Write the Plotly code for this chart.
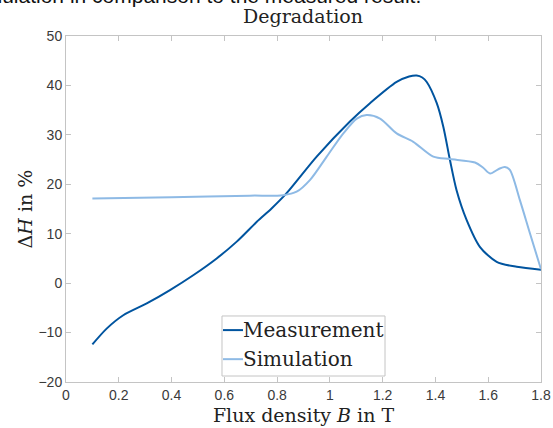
import plotly.graph_objects as go

meas_B = [0.10, 0.154, 0.217, 0.306, 0.394, 0.482, 0.571, 0.647, 0.723, 0.779, 0.836, 0.950, 1.076, 1.152, 1.253, 1.300, 1.329, 1.350, 1.367, 1.405, 1.430, 1.455, 1.480, 1.518, 1.569, 1.632, 1.708, 1.80]
meas_dH = [-12.4, -9.2, -6.5, -4.1, -1.4, 1.6, 5.0, 8.4, 12.4, 15.1, 18.2, 25.6, 32.7, 36.4, 40.7, 41.8, 42.0, 41.6, 40.7, 36.4, 31.6, 24.9, 18.8, 12.8, 7.3, 4.3, 3.3, 2.7]

sim_B = [0.10, 0.40, 0.697, 0.823, 0.874, 0.925, 0.988, 1.051, 1.102, 1.139, 1.190, 1.253, 1.316, 1.392, 1.455, 1.550, 1.580, 1.607, 1.640, 1.663, 1.682, 1.720, 1.758, 1.80]
sim_dH = [17.1, 17.4, 17.7, 17.8, 18.5, 20.9, 25.6, 30.3, 33.3, 34.0, 33.3, 30.3, 28.6, 25.6, 25.1, 24.4, 23.4, 22.2, 23.1, 23.5, 22.9, 16.8, 10.1, 2.8]

series_names = ["Measurement", "Simulation"]
series_colors = ["#00549F", "#8EBAE5"]

x_ticks = [0, 0.2, 0.4, 0.6, 0.8, 1, 1.2, 1.4, 1.6, 1.8]
x_tick_text = ["0", "0.2", "0.4", "0.6", "0.8", "1", "1.2", "1.4", "1.6", "1.8"]
y_ticks = [-20, -10, 0, 10, 20, 30, 40, 50]

serif = "DejaVu Serif, serif"
sans = "Liberation Sans, Arial, sans-serif"

fig = go.Figure()
for xs, ys, nm, col in [(meas_B, meas_dH, series_names[0], series_colors[0]),
                        (sim_B, sim_dH, series_names[1], series_colors[1])]:
    fig.add_trace(go.Scatter(x=xs, y=ys, mode="lines", name=nm, showlegend=False,
                             line=dict(color=col, width=2, shape="spline", smoothing=0.8)))

axis_common = dict(showline=True, linecolor="#c4c4c4", linewidth=1, mirror="ticks",
                   ticks="inside", ticklen=5, tickcolor="#c4c4c4", showgrid=False, zeroline=False,
                   automargin=False,
                   tickfont=dict(family=sans, size=14, color="#3a3a3a"))

fig.update_layout(
    width=553, height=428,
    margin=dict(l=66, r=12, t=36, b=46),
    paper_bgcolor="white", plot_bgcolor="white",
    title=dict(text="Degradation", x=0.548, xanchor="center", y=0.962, yanchor="middle",
               font=dict(family=serif, size=19, color="#222222")),
    xaxis=dict(range=[0, 1.8], tickvals=x_ticks, ticktext=x_tick_text,
               title=dict(text="Flux density <i>B</i> in T", standoff=6,
                          font=dict(family=serif, size=19, color="#222222")),
               **axis_common),
    yaxis=dict(range=[-20, 50], tickvals=y_ticks,
               title=dict(text="Δ<i>H</i> in %", standoff=0,
                          font=dict(family=serif, size=19, color="#222222")),
               **axis_common),
)

# manual legend (MATLAB style: short line samples)
fig.add_shape(type="rect", xref="paper", yref="paper", x0=0.3284, x1=0.6716, y0=0.0173, y1=0.1908,
              line=dict(color="#c4c4c4", width=1), fillcolor="white", layer="above")
leg_rows = [0.1500, 0.0660]
for yy, nm, col in zip(leg_rows, series_names, series_colors):
    fig.add_shape(type="line", xref="paper", yref="paper", x0=0.3305, x1=0.3726, y0=yy, y1=yy,
                  line=dict(color=col, width=2), layer="above")
    fig.add_annotation(text=nm, xref="paper", yref="paper", x=0.3726, y=yy, xanchor="left",
                       yanchor="middle", showarrow=False, xshift=-2,
                       font=dict(family=serif, size=20, color="#222222"))

fig.add_annotation(text="Simulation in comparison to the measured result.", xref="paper", yref="paper",
                   x=-0.215, y=1.078, xanchor="left", yanchor="bottom", showarrow=False,
                   font=dict(family=sans, size=21, color="#111111"))

fig.write_html("out.html")
